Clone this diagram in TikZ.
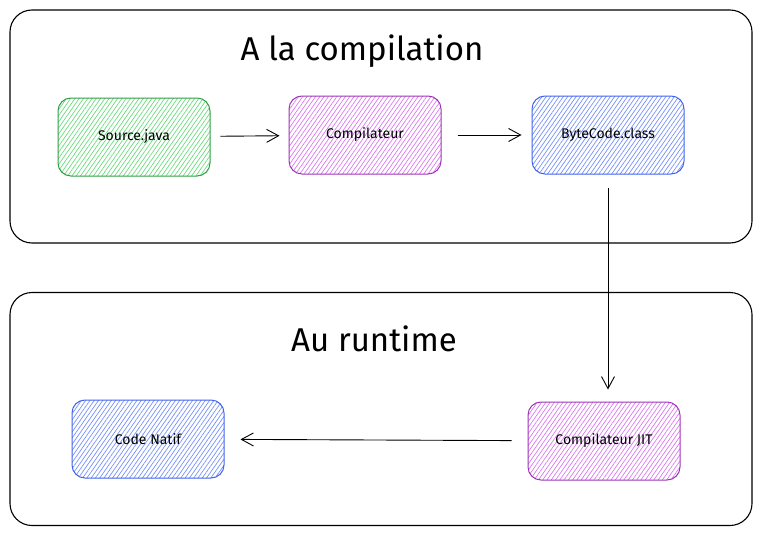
\documentclass[tikz,border=0pt]{standalone}
\usepackage{fontspec}
\setmainfont{Fira Sans}
\usetikzlibrary{arrows.meta,patterns.meta}
\definecolor{greenline}{HTML}{2F9E44}
\definecolor{greenhatch}{HTML}{69DB7C}
\definecolor{purpleline}{HTML}{9C36B5}
\definecolor{purplehatch}{HTML}{DA77F2}
\definecolor{blueline}{HTML}{4263EB}
\definecolor{bluehatch}{HTML}{748FFC}
\begin{document}
\begin{tikzpicture}[x=1pt, y=-1pt,
    frame/.style={draw, rounded corners=22pt, line width=1.1pt, minimum width=742pt, minimum height=233pt},
    title/.style={font=\fontsize{33}{38}\selectfont},
    box/.style={draw=#1line, line width=1pt, rounded corners=13pt, minimum width=152pt, minimum height=78pt,
        pattern={Lines[angle=55, distance=3.5pt, line width=0.7pt]}, pattern color=#1hatch,
        font=\fontsize{14}{16}\selectfont},
    arrow/.style={-{Straight Barb[length=12pt, width=13pt]}, line width=0.9pt}
]
    \useasboundingbox (0,0) rectangle (763,535);
    % frames
    \node[frame] (compilframe) at (381,126.5) {};
    \node[frame] (runframe) at (381,409) {};
    \node[title] (compiltitle) at (362,51) {A la compilation};
    \node[title] (runtitle) at (374,339) {Au runtime};
    % boxes
    \node[box=green] (source) at (134,137) {Source.java};
    \node[box=purple] (compilateur) at (365,135) {Compilateur};
    \node[box=blue] (bytecode) at (608,135) {ByteCode.class};
    \node[box=blue] (natif) at (148,439) {Code Natif};
    \node[box=purple] (jit) at (604,441) {Compilateur JIT};
    % arrows
    \draw[arrow, shorten <=10pt, shorten >=9pt] (source) -- (compilateur);
    \draw[arrow, shorten <=16pt, shorten >=10pt] (compilateur) -- (bytecode);
    \draw[arrow, shorten <=13pt, shorten >=12pt] (bytecode.south) -- (bytecode.south |- jit.north);
    \draw[arrow, shorten <=16pt, shorten >=16pt] (jit) -- (natif);
\end{tikzpicture}
\end{document}
